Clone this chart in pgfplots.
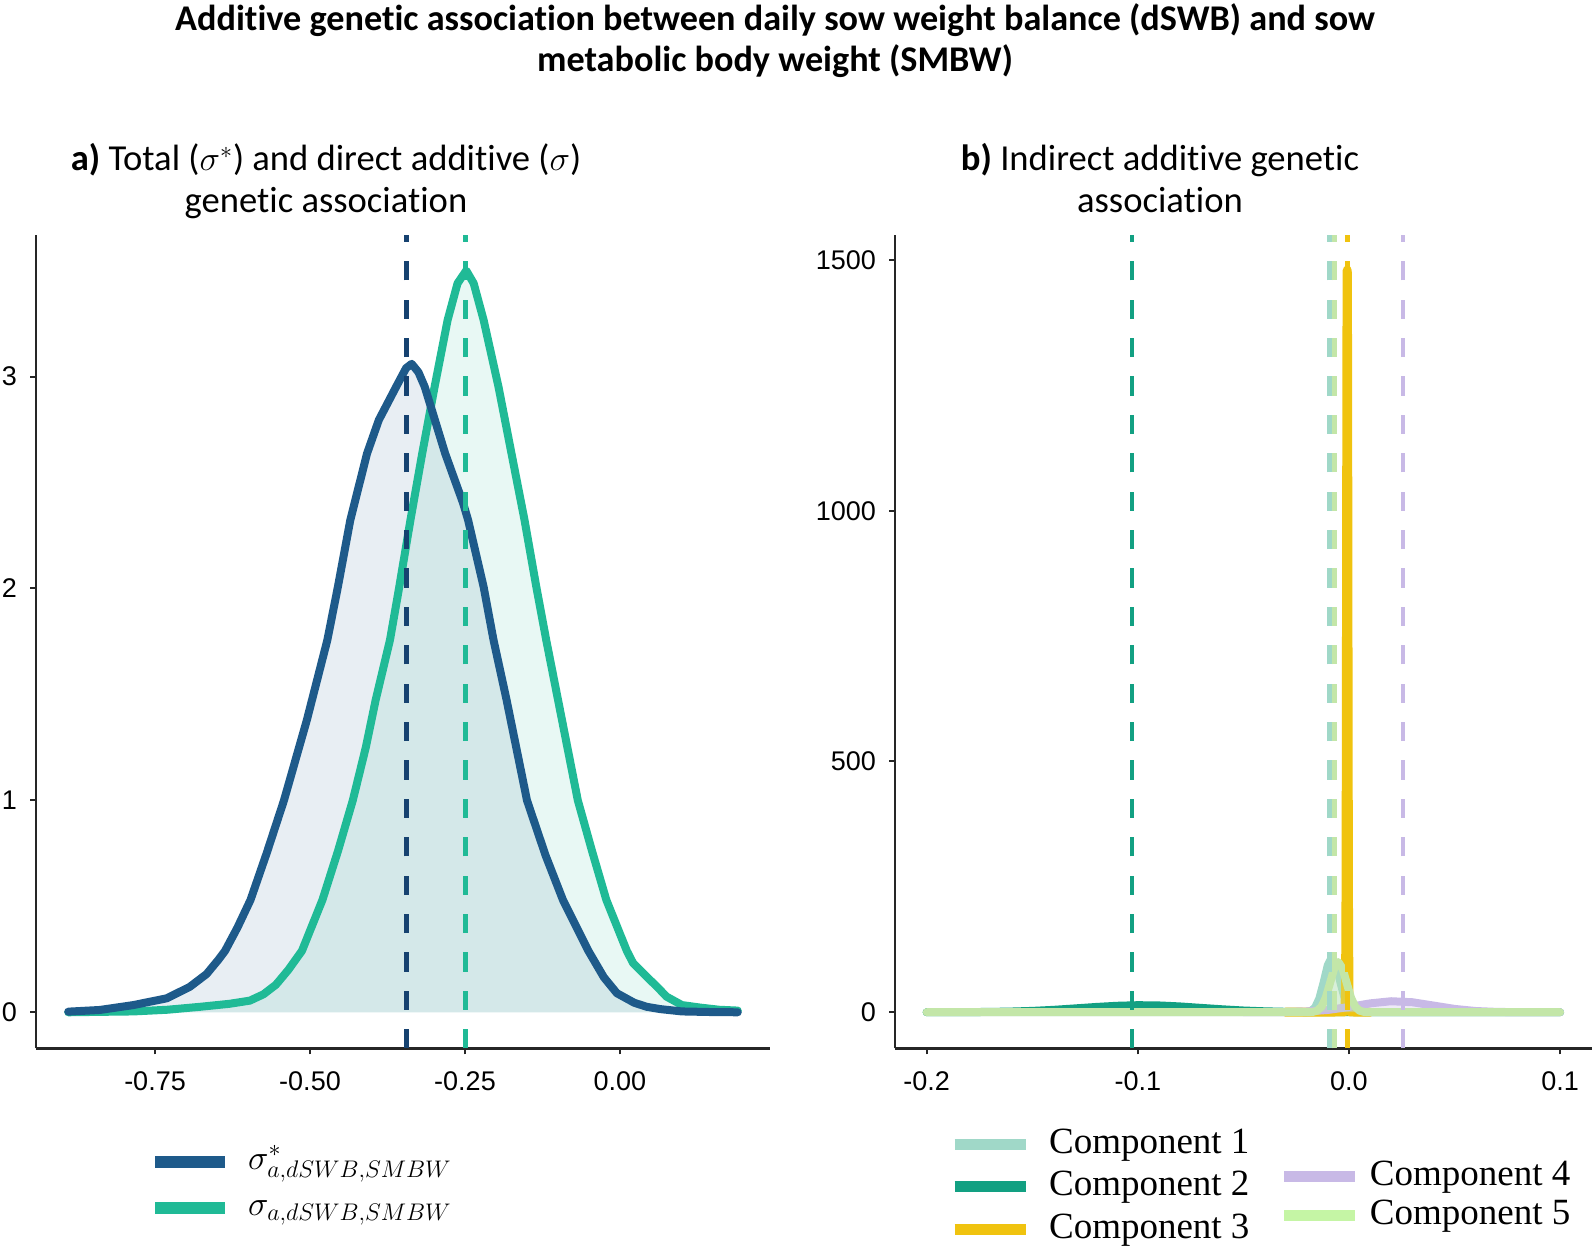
\documentclass[border=0pt]{standalone}
\usepackage{pgfplots}
\pgfplotsset{compat=1.18}
\usepackage{fontspec}
\setmainfont{Carlito}[Ligatures=NoCommon]
\newfontfamily\tickfont{Liberation Sans}
\newfontfamily\legfont{Liberation Serif}

\definecolor{cblue}{RGB}{30,90,138}
\definecolor{cbluedash}{RGB}{22,66,112}
\definecolor{cgreen}{RGB}{32,186,150}
\definecolor{cone}{RGB}{160,216,200}
\definecolor{ctwo}{RGB}{18,160,130}
\definecolor{cthree}{RGB}{240,195,15}
\definecolor{cfour}{RGB}{200,185,230}
\definecolor{cfive}{RGB}{195,230,168}
\definecolor{cfiveleg}{RGB}{197,245,165}

\pgfplotsset{
  myaxis/.style={
    scale only axis,
    axis lines=left,
    axis line style={-, line width=1.3pt, black!85},
    tick align=outside,
    major tick length=3pt,
    every tick/.style={line width=1pt, black!85},
    tick label style={font=\fontsize{13.5}{14}\tickfont, black},
    xticklabel style={yshift=-5pt},
    yticklabel style={xshift=-3pt},
    /pgf/number format/assume math mode=true,
    legend cell align=left,
  },
  dens/.style={line width=4pt, line cap=round, line join=round},
  vl/.style={line width=2.4pt, dash pattern=on 9.6pt off 9.6pt},
}

\pgfplotstableread{
x y
-0.890 0.003
-0.839 0.011
-0.785 0.034
-0.731 0.066
-0.694 0.12
-0.667 0.18
-0.648 0.247
-0.637 0.29
-0.617 0.40
-0.596 0.53
-0.570 0.75
-0.542 1.00
-0.505 1.38
-0.472 1.757
-0.455 2.008
-0.435 2.323
-0.408 2.637
-0.389 2.795
-0.361 2.952
-0.345 3.04
-0.336 3.06
-0.325 3.02
-0.315 2.952
-0.282 2.637
-0.253 2.402
-0.245 2.323
-0.220 2.008
-0.204 1.757
-0.183 1.475
-0.150 1.00
-0.120 0.74
-0.092 0.53
-0.051 0.29
-0.026 0.165
-0.005 0.09
0.023 0.045
0.043 0.026
0.065 0.015
0.100 0.004
0.150 0.001
0.190 0.000
}\blueT

\pgfplotstableread{
x y
-0.890 0.000
-0.840 0.002
-0.785 0.004
-0.730 0.012
-0.677 0.026
-0.630 0.040
-0.597 0.055
-0.575 0.085
-0.555 0.13
-0.535 0.20
-0.513 0.29
-0.480 0.53
-0.455 0.76
-0.431 1.00
-0.410 1.25
-0.394 1.475
-0.371 1.757
-0.356 2.008
-0.338 2.323
-0.319 2.637
-0.299 2.952
-0.278 3.267
-0.262 3.44
-0.248 3.50
-0.236 3.44
-0.220 3.267
-0.196 2.952
-0.175 2.637
-0.154 2.323
-0.135 2.008
-0.119 1.757
-0.100 1.475
-0.068 1.00
-0.045 0.76
-0.022 0.53
0.011 0.29
0.021 0.233
0.044 0.165
0.060 0.12
0.075 0.074
0.100 0.034
0.130 0.022
0.160 0.012
0.190 0.008
}\greenT

\pgfplotstableread{
x y
-0.200 0
-0.026 0
-0.022 0.06
-0.020 0.4
-0.018 2.3
-0.016 9.3
-0.014 27.4
-0.012 59
-0.010 94
-0.008 110
-0.006 94
-0.004 59
-0.002 27.4
0.000 9.3
0.002 2.3
0.004 0.4
0.006 0.06
0.008 0
0.100 0
}\compA

\pgfplotstableread{
x y
-0.200 0.02
-0.180 0.22
-0.170 0.58
-0.160 1.3
-0.150 2.6
-0.140 4.7
-0.130 7.5
-0.120 10.4
-0.110 12.8
-0.100 14
-0.090 13.5
-0.080 11.5
-0.070 8.6
-0.060 5.8
-0.050 3.4
-0.040 1.8
-0.030 0.8
-0.020 0.33
0.000 0.04
0.020 0
0.100 0
}\compB

\pgfplotstableread{
x y
-0.0300 0
-0.0022 0.5
-0.0019 5.7
-0.0016 42
-0.0014 200
-0.0013 369
-0.0012 608
-0.0011 898
-0.0010 1184
-0.0009 1400
-0.0008 1480
-0.0007 1400
-0.0006 1184
-0.0005 898
-0.0004 608
-0.0003 369
-0.0002 200
0.0000 42
0.0003 5.7
0.0006 0.5
0.0100 0
}\compC

\pgfplotstableread{
x y
-0.050 0
-0.040 0.06
-0.030 0.35
-0.020 1.45
-0.010 4.5
0.000 10.4
0.010 17.6
0.020 21.9
0.030 19.9
0.040 13.3
0.050 6.6
0.060 2.4
0.070 0.63
0.080 0.12
0.090 0.02
0.100 0
}\compD

\pgfplotstableread{
x y
-0.200 0
-0.021 0
-0.019 0.1
-0.017 0.7
-0.015 3.1
-0.013 10.9
-0.011 28.7
-0.009 57.5
-0.007 87
-0.005 100
-0.003 87
-0.001 57.5
0.001 28.7
0.003 10.9
0.005 3.1
0.007 0.7
0.009 0.1
0.011 0
0.100 0
}\compE

\begin{document}
\begin{tikzpicture}
\path[use as bounding box] (0pt,0pt) rectangle (797pt,625pt);

% titles
\node[anchor=base, font=\fontsize{18.1}{20}\selectfont\bfseries] at (387.5pt,609.7pt) {Additive genetic association between daily sow weight balance (dSWB) and sow};
\node[anchor=base, font=\fontsize{18.1}{20}\selectfont\bfseries] at (387.5pt,589pt) {metabolic body weight (SMBW)};
\node[anchor=base, font=\fontsize{18.3}{20}\selectfont] at (163pt,539.6pt) {\textbf{a)} Total ($\sigma^{*}$) and direct additive ($\sigma$)};
\node[anchor=base, font=\fontsize{18.3}{20}\selectfont] at (163pt,518.75pt) {genetic association};
\node[anchor=base, font=\fontsize{18.3}{20}\selectfont] at (580pt,539.6pt) {\textbf{b)} Indirect additive genetic};
\node[anchor=base, font=\fontsize{18.3}{20}\selectfont] at (580pt,518.75pt) {association};

% ---------- panel a ----------
\begin{axis}[myaxis,
  at={(18pt,100.85pt)}, anchor=south west,
  width=367pt, height=406.65pt,
  xmin=-0.942, xmax=0.242, ymin=-0.17, ymax=3.668,
  xtick={-0.75,-0.5,-0.25,0}, xticklabels={-0.75,-0.50,-0.25,0.00},
  ytick={0,1,2,3},
  legend style={at={(axis description cs:0.1540,-0.1681)}, anchor=west,
    draw=none, fill=none, inner sep=0pt, outer sep=0pt, row sep=6pt,
    font=\fontsize{18.5}{20}\selectfont,
    /tikz/every odd column/.append style={column sep=8.5pt},
    nodes={inner sep=0pt, text height=12pt, text depth=5pt}},
  legend image code/.code={\draw[#1, line width=6pt] (0pt,0pt) -- (35pt,0pt);},
]
\addplot[draw=none, fill=cgreen, fill opacity=0.1, forget plot] table {\greenT} \closedcycle;
\addplot[draw=none, fill=cblue, fill opacity=0.1, forget plot] table {\blueT} \closedcycle;
\addplot[dens, cgreen, forget plot] table {\greenT};
\addplot[dens, cblue, forget plot] table {\blueT};
\addplot[vl, cbluedash, forget plot] coordinates {(-0.345,-0.17) (-0.345,3.668)};
\addplot[vl, cgreen, forget plot] coordinates {(-0.249,-0.17) (-0.249,3.668)};
\addlegendimage{cblue}
\addlegendentry{$\sigma^{*}_{a,dSWB,SMBW}$}
\addlegendimage{cgreen}
\addlegendentry{$\sigma_{a,dSWB,SMBW}$}
\end{axis}

% ---------- panel b ----------
\begin{axis}[myaxis,
  at={(447.5pt,100.85pt)}, anchor=south west,
  width=348.35pt, height=406.65pt,
  xmin=-0.215, xmax=0.115, ymin=-72, ymax=1550,
  xtick={-0.2,-0.1,0,0.1}, xticklabels={-0.2,-0.1,0.0,0.1},
  ytick={0,500,1000,1500}, yticklabels={0,500,1000,1500},
  legend style={at={(axis description cs:0.0776,-0.1699)}, anchor=west,
    draw=none, fill=none, inner sep=0pt, outer sep=0pt, row sep=4.25pt,
    font=\fontsize{18.5}{20}\legfont,
    /tikz/every odd column/.append style={column sep=9pt},
    nodes={inner sep=0pt, text height=13pt, text depth=4pt}},
  legend image code/.code={\draw[#1, line width=5.5pt] (0pt,0pt) -- (35.5pt,0pt);},
]
\addplot[dens, cone, fill=cone, fill opacity=0.3, forget plot] table {\compA};
\addplot[dens, ctwo, fill=ctwo, fill opacity=0.3, forget plot] table {\compB};
\addplot[dens, cthree, line width=4.5pt, fill=cthree, fill opacity=0.3, forget plot] table {\compC};
\addplot[dens, cfour, fill=cfour, fill opacity=0.3, forget plot] table {\compD};
\addplot[dens, cfive, fill=cfive, fill opacity=0.3, forget plot] table {\compE};
\addplot[vl, ctwo, line width=2.2pt, forget plot] coordinates {(-0.1027,-72) (-0.1027,1550)};
\addplot[vl, cone, line width=2.4pt, forget plot] coordinates {(-0.0092,-72) (-0.0092,1550)};
\addplot[vl, cfive, line width=2.4pt, forget plot] coordinates {(-0.0070,-72) (-0.0070,1550)};
\addplot[vl, cthree, line width=2.2pt, forget plot] coordinates {(-0.0006,-72) (-0.0006,1550)};
\addplot[vl, cfour, line width=2.2pt, forget plot] coordinates {(0.0255,-72) (0.0255,1550)};
\addlegendimage{cone}
\addlegendentry{Component 1}
\addlegendimage{ctwo}
\addlegendentry{Component 2}
\addlegendimage{cthree}
\addlegendentry{Component 3}
\end{axis}

% second legend column for panel b
\begin{axis}[
  at={(447.5pt,100.85pt)}, anchor=south west, scale only axis,
  width=348.35pt, height=406.65pt, hide axis,
  xmin=0, xmax=1, ymin=0, ymax=1,
  legend cell align=left,
  legend style={at={(axis description cs:0.5510,-0.1810)}, anchor=west,
    draw=none, fill=none, inner sep=0pt, outer sep=0pt, row sep=2.5pt,
    font=\fontsize{18.5}{20}\legfont,
    /tikz/every odd column/.append style={column sep=4.5pt},
    nodes={inner sep=0pt, text height=13pt, text depth=4pt}},
  legend image code/.code={\draw[#1, line width=5.5pt] (0pt,0pt) -- (35.5pt,0pt);},
]
\addlegendimage{cfour}
\addlegendentry{Component 4}
\addlegendimage{cfiveleg}
\addlegendentry{Component 5}
\end{axis}
\end{tikzpicture}
\end{document}
